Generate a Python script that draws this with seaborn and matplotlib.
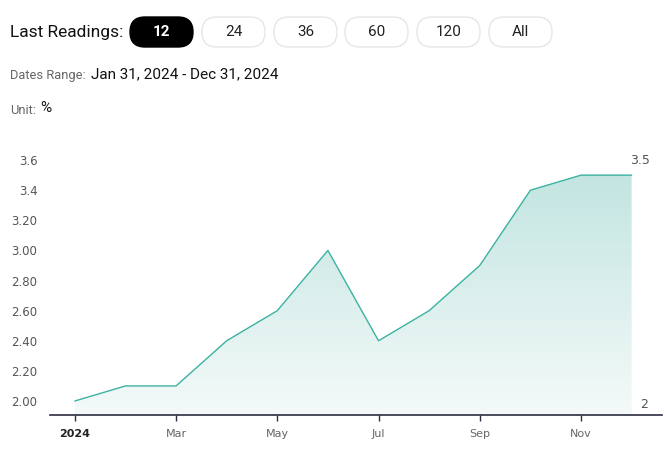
import numpy as np
import matplotlib
matplotlib.use("Agg")
import matplotlib.pyplot as plt
import seaborn as sns
import pandas as pd
from matplotlib.patches import FancyBboxPatch

months = ["Jan", "Feb", "Mar", "Apr", "May", "Jun", "Jul", "Aug", "Sep", "Oct", "Nov", "Dec"]
values = [2.0, 2.1, 2.1, 2.4, 2.6, 3.0, 2.4, 2.6, 2.9, 3.4, 3.5, 3.5]
xtick_pos = [0, 2, 4, 6, 8, 10]
xtick_labels = ["2024", "Mar", "May", "Jul", "Sep", "Nov"]
ytick_vals = [2.0, 2.2, 2.4, 2.6, 2.8, 3.0, 3.2, 3.4, 3.6]
ytick_labels = ["2.00", "2.20", "2.40", "2.60", "2.80", "3.00", "3.20", "3.4", "3.6"]
buttons = ["12", "24", "36", "60", "120", "All"]

df = pd.DataFrame({"idx": range(len(months)), "value": values})

sns.set_style("white")
plt.rcParams["font.family"] = ["DejaVu Sans"]

W, H = 667, 463
fig = plt.figure(figsize=(W / 100, H / 100), dpi=100)

# header overlay in pixel coordinates
hdr = fig.add_axes([0, 0, 1, 1])
hdr.set_xlim(0, W)
hdr.set_ylim(H, 0)
hdr.axis("off")
hfont = "Roboto"
hdr.text(10, 32, "Last Readings:", fontsize=12.5, family=hfont, color="#111", va="center")
bx = [130, 202, 274, 345, 417, 489]
for i, (lab, x0) in enumerate(zip(buttons, bx)):
    active = i == 0
    p = FancyBboxPatch((x0, 17), 63, 30, boxstyle="round,pad=0,rounding_size=15",
                       fc="black" if active else "white",
                       ec="black" if active else "#e6e6e6", lw=1)
    hdr.add_patch(p)
    hdr.text(x0 + 31.5, 32, lab, fontsize=11, family=hfont, ha="center", va="center",
             color="white" if active else "#222", weight="bold" if active else "normal")
hdr.text(10, 75, "Dates Range:", fontsize=9.3, family=hfont, color="#666", va="center")
hdr.text(91, 74, "Jan 31, 2024 - Dec 31, 2024", fontsize=11, family=hfont, color="#111", va="center")
hdr.text(10, 110, "Unit:", fontsize=9.3, family=hfont, color="#666", va="center")
hdr.text(40, 108, "%", fontsize=11, family=hfont, color="#111", va="center")

# main chart
ax = fig.add_axes([50 / W, 48 / H, 612 / W, 265 / H])
ax.patch.set_alpha(0)
line_color = "#3bb2a2"
ymin, ymax = 1.907, 3.667
xmin, xmax = -0.49, 11.6

fill = ax.fill_between(df["idx"], df["value"], ymin, color="none", lw=0)
grad = np.linspace(0, 1, 256).reshape(-1, 1)
cmap = matplotlib.colors.LinearSegmentedColormap.from_list("g", ["#f4faf9", "#c3e5e1"])
im = ax.imshow(grad, cmap=cmap, aspect="auto", origin="lower",
               extent=[0, 11, ymin, max(values)], zorder=1)
path = fill.get_paths()[0]
im.set_clip_path(path, transform=ax.transData)

sns.lineplot(data=df, x="idx", y="value", ax=ax, color=line_color, lw=1, zorder=3)

ax.set_xlim(xmin, xmax)
ax.set_ylim(ymin, ymax)
ax.set_xticks(xtick_pos)
ax.set_xticklabels(xtick_labels, fontsize=8, color="#666")
ax.get_xticklabels()[0].set_color("#222")
ax.get_xticklabels()[0].set_fontweight("bold")
ax.set_yticks(ytick_vals)
ax.set_yticklabels(ytick_labels, fontsize=8.5, color="#555")
ax.tick_params(axis="x", length=4, width=1, color="#2b2d42", pad=6, direction="out", bottom=True)
ax.tick_params(axis="y", length=0, pad=9)
ax.set_xlabel("")
ax.set_ylabel("")
for s in ["top", "right", "left"]:
    ax.spines[s].set_visible(False)
ax.spines["bottom"].set_color("#2b2d42")
ax.spines["bottom"].set_linewidth(1.2)

ax.text(11.17, max(values) + 0.1, f"{max(values):g}", fontsize=9, color="#555", ha="center", va="center")
ax.text(11.25, min(values) - 0.025, f"{min(values):g}", fontsize=9, color="#555", ha="center", va="center")

fig.savefig("out.png", dpi=100)
